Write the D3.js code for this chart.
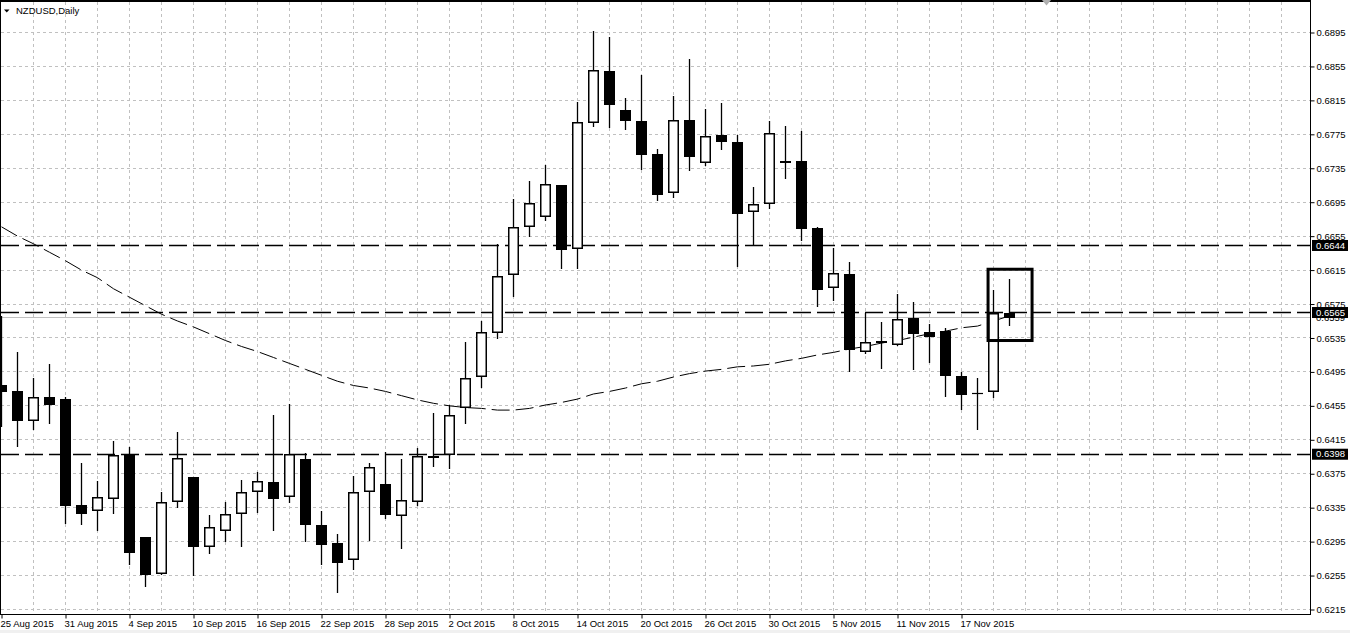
<!DOCTYPE html>
<html>
<head>
<meta charset="utf-8">
<script src="https://cdn.jsdelivr.net/npm/d3@7"></script>
<style>
  body { margin: 0; background: #fff; }
  svg { display: block; font-family: "Liberation Sans", Arial, sans-serif; }
</style>
</head>
<body>
<svg id="chart" width="1350" height="633"></svg>
<script>
// NZDUSD daily bars, 25 Aug - 20 Nov 2015
var dates = ["2015-08-25","2015-08-26","2015-08-27","2015-08-28","2015-08-31","2015-09-01","2015-09-02","2015-09-03",
  "2015-09-04","2015-09-07","2015-09-08","2015-09-09","2015-09-10","2015-09-11","2015-09-14","2015-09-15",
  "2015-09-16","2015-09-17","2015-09-18","2015-09-21","2015-09-22","2015-09-23","2015-09-24","2015-09-25",
  "2015-09-28","2015-09-29","2015-09-30","2015-10-01","2015-10-02","2015-10-05","2015-10-06","2015-10-07",
  "2015-10-08","2015-10-09","2015-10-12","2015-10-13","2015-10-14","2015-10-15","2015-10-16","2015-10-19",
  "2015-10-20","2015-10-21","2015-10-22","2015-10-23","2015-10-26","2015-10-27","2015-10-28","2015-10-29",
  "2015-10-30","2015-11-02","2015-11-03","2015-11-04","2015-11-05","2015-11-06","2015-11-09","2015-11-10",
  "2015-11-11","2015-11-12","2015-11-13","2015-11-16","2015-11-17","2015-11-18","2015-11-19","2015-11-20"];

var opens = [0.6479,0.6473,0.6437,0.6465,0.6463,0.6338,0.6331,0.6345,0.6398,0.6301,0.6257,0.6342,0.6371,0.6289,0.6308,0.6327,
  0.6353,0.6365,0.6347,0.6392,0.6315,0.6293,0.6273,0.6354,0.6363,0.6325,0.6342,0.6396,0.6397,0.6453,0.6489,0.6541,
  0.6609,0.6666,0.6678,0.6715,0.6640,0.6788,0.6850,0.6804,0.6791,0.6752,0.6706,0.6792,0.6741,0.6774,0.6766,0.6683,
  0.6693,0.6744,0.6743,0.6665,0.6594,0.6610,0.6519,0.6532,0.6527,0.6558,0.6542,0.6543,0.6490,0.6470,0.6471,0.6565];
var highs = [0.6561,0.6518,0.6488,0.6504,0.6466,0.6388,0.6367,0.6413,0.6407,0.6301,0.6354,0.6424,0.6371,0.6326,0.6342,0.6368,
  0.6377,0.6444,0.6457,0.6399,0.6331,0.6304,0.6372,0.6388,0.6401,0.6392,0.6405,0.6447,0.6456,0.6530,0.6555,0.6646,
  0.6699,0.6720,0.6739,0.6715,0.6813,0.6897,0.6890,0.6818,0.6845,0.6758,0.6820,0.6864,0.6805,0.6812,0.6774,0.6713,
  0.6791,0.6785,0.6779,0.6666,0.6641,0.6624,0.6565,0.6554,0.6587,0.6577,0.6552,0.6547,0.6495,0.6488,0.6591,0.6604];
var lows = [0.6430,0.6406,0.6427,0.6434,0.6316,0.6314,0.6308,0.6327,0.6267,0.6241,0.6256,0.6335,0.6254,0.6280,0.6294,0.6289,
  0.6329,0.6308,0.6341,0.6295,0.6268,0.6234,0.6261,0.6296,0.6322,0.6286,0.6337,0.6383,0.6380,0.6434,0.6476,0.6534,
  0.6583,0.6654,0.6673,0.6616,0.6616,0.6784,0.6783,0.6780,0.6733,0.6696,0.6700,0.6732,0.6738,0.6757,0.6619,0.6645,
  0.6687,0.6722,0.6649,0.6571,0.6578,0.6495,0.6516,0.6498,0.6525,0.6497,0.6505,0.6466,0.6450,0.6426,0.6464,0.6549];
var closes = [0.6471,0.6437,0.6466,0.6456,0.6337,0.6328,0.6347,0.6397,0.6281,0.6256,0.6342,0.6394,0.6289,0.6312,0.6328,0.6354,
  0.6366,0.6345,0.6398,0.6314,0.6291,0.6270,0.6353,0.6383,0.6326,0.6344,0.6396,0.6395,0.6444,0.6488,0.6542,0.6608,
  0.6666,0.6694,0.6717,0.6639,0.6790,0.6851,0.6809,0.6791,0.6751,0.6704,0.6792,0.6748,0.6773,0.6766,0.6681,0.6693,
  0.6776,0.6743,0.6663,0.6591,0.6611,0.6521,0.6530,0.6529,0.6557,0.6540,0.6536,0.6490,0.6468,0.6470,0.6564,0.6559];

// moving average line
var ma = [0.6666,0.6655,0.6646,0.6636,0.6626,0.6615,0.6606,0.6593,0.6583,0.6573,0.6563,0.6555,0.6548,0.6540,0.6532,0.6525,
  0.6519,0.6512,0.6505,0.6498,0.6491,0.6484,0.6479,0.6476,0.6472,0.6467,0.6462,0.6458,0.6455,0.6453,0.6452,0.6450,
  0.6450,0.6452,0.6456,0.6459,0.6463,0.6469,0.6472,0.6476,0.6481,0.6484,0.6489,0.6493,0.6496,0.6498,0.6501,0.6502,
  0.6504,0.6508,0.6511,0.6515,0.6518,0.6522,0.6525,0.6529,0.6532,0.6536,0.6540,0.6543,0.6547,0.6549,0.6555,0.6561];

var priceTicks = [0.6215,0.6255,0.6295,0.6335,0.6375,0.6415,0.6455,0.6495,0.6535,0.6575,0.6615,0.6655,0.6695,0.6735,0.6775,0.6815,0.6855,0.6895];
var dateLabels = ["25 Aug 2015","31 Aug 2015","4 Sep 2015","10 Sep 2015","16 Sep 2015","22 Sep 2015","28 Sep 2015","2 Oct 2015",
  "8 Oct 2015","14 Oct 2015","20 Oct 2015","26 Oct 2015","30 Oct 2015","5 Nov 2015","11 Nov 2015","17 Nov 2015"];
var levels = [0.6644, 0.6565, 0.6398];
var bid = 0.6559;
var highlight = { from: 61.66, to: 64.41, top: 0.6616, bottom: 0.6532 };

var W = 1350, H = 633, plotRight = 1310, plotBottom = 614;

var x = d3.scaleLinear().domain([0, 80]).range([1.5, 1281.5]);
var y = d3.scaleLinear().domain([0.6215, 0.6895]).range([609.5, 32.5]);
var snap = function (v) { return Math.floor(v) + 0.5; };

var fmtDate = d3.timeFormat("%-d %b %Y");
var parse = d3.timeParse("%Y-%m-%d");
var bars = dates.map(function (d, i) {
  return { i: i, date: parse(d), o: opens[i], h: highs[i], l: lows[i], c: closes[i] };
});

var svg = d3.select("#chart");
svg.append("rect").attr("width", W).attr("height", H).attr("fill", "#fff");
svg.append("rect").attr("y", 630).attr("width", W).attr("height", 3).attr("fill", "#f0f0f0");

svg.append("defs").append("clipPath").attr("id", "plot")
  .append("rect").attr("x", 1).attr("y", 1).attr("width", plotRight - 1).attr("height", plotBottom - 1);

// grid
var grid = svg.append("g").attr("stroke", "#c0c0c0").attr("stroke-dasharray", "3,3").attr("stroke-width", 1);
grid.selectAll(".hg").data(priceTicks).enter().append("line")
  .attr("x1", 1).attr("x2", plotRight)
  .attr("y1", function (d) { return snap(y(d)); })
  .attr("y2", function (d) { return snap(y(d)); });
grid.selectAll(".vg").data(d3.range(2, 81, 2)).enter().append("line")
  .attr("x1", function (d) { return x(d); }).attr("x2", function (d) { return x(d); })
  .attr("y1", 2).attr("y2", plotBottom);

var plot = svg.append("g").attr("clip-path", "url(#plot)");

// bid line
plot.append("line").attr("x1", 0).attr("x2", plotRight)
  .attr("y1", snap(y(bid))).attr("y2", snap(y(bid)))
  .attr("stroke", "#c0c0c0").attr("stroke-width", 1);

// horizontal levels
plot.selectAll(".lvl").data(levels).enter().append("line")
  .attr("x1", 1).attr("x2", plotRight)
  .attr("y1", function (d) { return snap(y(d)); })
  .attr("y2", function (d) { return snap(y(d)); })
  .attr("stroke", "#000").attr("stroke-width", 1.5).attr("stroke-dasharray", "18,6");

// moving average
plot.append("path").datum(ma)
  .attr("d", d3.line().x(function (d, i) { return x(i); }).y(function (d) { return y(d); }))
  .attr("fill", "none").attr("stroke", "#000").attr("stroke-width", 1).attr("stroke-dasharray", "18,6");

// candles
var candle = plot.selectAll(".candle").data(bars).enter().append("g").attr("class", "candle");
candle.append("line")
  .attr("x1", function (d) { return x(d.i); }).attr("x2", function (d) { return x(d.i); })
  .attr("y1", function (d) { return Math.round(y(d.h)); })
  .attr("y2", function (d) { return Math.round(y(d.l)); })
  .attr("stroke", "#000").attr("stroke-width", 1.3);

candle.each(function (d) {
  var g = d3.select(this);
  var top = Math.round(y(Math.max(d.o, d.c)));
  var bot = Math.round(y(Math.min(d.o, d.c)));
  var cx = x(d.i);
  if (d.o === d.c) {
    g.append("line").attr("x1", cx - 5.5).attr("x2", cx + 5.5)
      .attr("y1", top + 0.5).attr("y2", top + 0.5).attr("stroke", "#000").attr("stroke-width", 1.2);
  } else if (d.c > d.o) {
    g.append("rect").attr("x", cx - 4.75).attr("width", 9.5)
      .attr("y", top + 0.75).attr("height", Math.max(bot - top - 1.5, 0.5))
      .attr("fill", "#fff").attr("stroke", "#000").attr("stroke-width", 1.5);
  } else {
    g.append("rect").attr("x", cx - 5.5).attr("width", 11)
      .attr("y", top).attr("height", Math.max(bot - top, 2))
      .attr("fill", "#000");
  }
});

// highlight box
plot.append("rect")
  .attr("x", x(highlight.from)).attr("width", x(highlight.to) - x(highlight.from))
  .attr("y", y(highlight.top)).attr("height", y(highlight.bottom) - y(highlight.top))
  .attr("fill", "none").attr("stroke", "#000").attr("stroke-width", 3);

// frame
svg.append("line").attr("x1", 0).attr("x2", plotRight).attr("y1", 1).attr("y2", 1).attr("stroke", "#000").attr("stroke-width", 2);
svg.append("line").attr("x1", 0.5).attr("x2", 0.5).attr("y1", 0).attr("y2", plotBottom).attr("stroke", "#000");

// price axis
var yAxis = svg.append("g").attr("transform", "translate(" + (plotRight + 0.5) + ",0)")
  .call(d3.axisRight(y).tickValues(priceTicks).tickSize(4).tickPadding(2).tickFormat(d3.format(".4f")));
yAxis.select(".domain").remove();
yAxis.selectAll("text").attr("font-size", "9.5px").attr("font-family", "Liberation Sans, Arial, sans-serif").attr("fill", "#000");
yAxis.selectAll("line").attr("stroke", "#000");
svg.append("line").attr("x1", plotRight + 0.5).attr("x2", plotRight + 0.5).attr("y1", 0).attr("y2", plotBottom + 1)
  .attr("stroke", "#000");

// bid price label (partly covered)
svg.append("text").attr("x", plotRight + 6).attr("y", y(bid)).attr("dy", "0.32em")
  .attr("font-size", "9.5px").attr("fill", "#000").text(d3.format(".4f")(bid));

// level labels
var lab = svg.selectAll(".lvlLab").data(levels).enter().append("g");
lab.append("rect").attr("x", plotRight + 2).attr("width", 36)
  .attr("y", function (d) { return y(d) - 5.5; }).attr("height", 11).attr("fill", "#000");
lab.append("text").attr("x", plotRight + 6).attr("y", function (d) { return y(d); }).attr("dy", "0.32em")
  .attr("font-size", "9.5px").attr("fill", "#fff").text(function (d) { return d3.format(".4f")(d); });

// date axis
var tickIdx = dateLabels.map(function (lbl) {
  return bars.findIndex(function (b) { return fmtDate(b.date) === lbl; });
});
var xAxis = svg.append("g").attr("transform", "translate(0," + (plotBottom + 0.5) + ")")
  .call(d3.axisBottom(x).tickValues(tickIdx).tickSize(4).tickPadding(2)
    .tickFormat(function (d, i) { return dateLabels[i]; }));
xAxis.select(".domain").remove();
xAxis.selectAll("line").attr("stroke", "#000");
xAxis.selectAll("text").attr("text-anchor", "start").attr("x", -1.5)
  .attr("font-size", "9.5px").attr("font-family", "Liberation Sans, Arial, sans-serif").attr("fill", "#000");
svg.append("line").attr("x1", 0).attr("x2", plotRight + 1).attr("y1", plotBottom + 0.5).attr("y2", plotBottom + 0.5)
  .attr("stroke", "#000");

// title and markers
svg.append("path").attr("d", "M4,9.5H9.5L6.75,12.5Z").attr("fill", "#000");
svg.append("text").attr("x", 16).attr("y", 14).attr("font-size", "9.5px").attr("fill", "#000").text("NZDUSD,Daily");
svg.append("path").attr("d", "M1042,0H1051L1046.5,5.5Z").attr("fill", "#b0b0b0");
</script>
</body>
</html>
